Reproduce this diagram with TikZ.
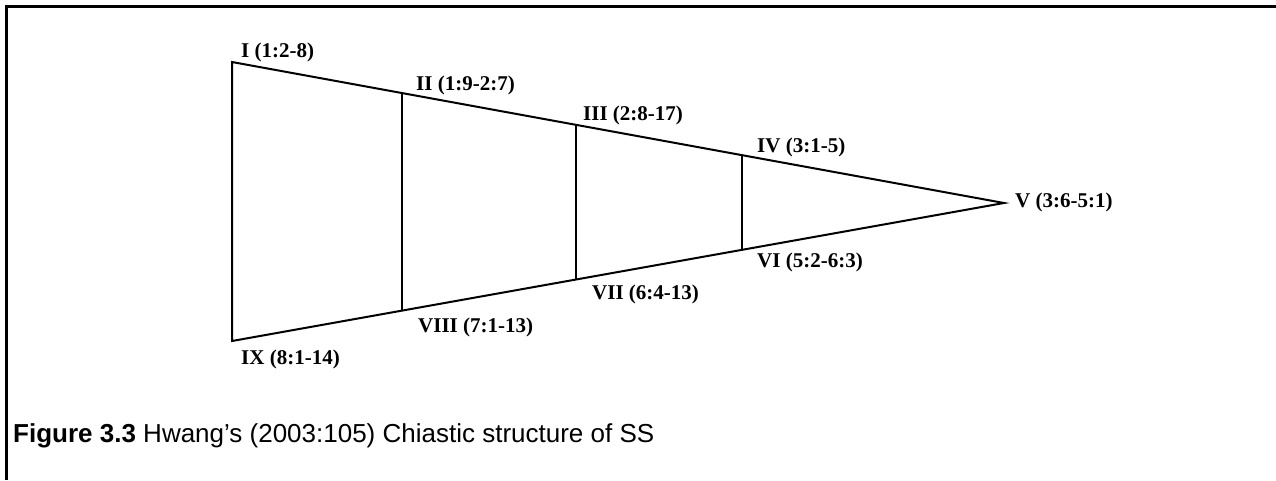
\documentclass[tikz,border=0pt]{standalone}
\usepackage{fontspec}
\setmainfont{Liberation Serif}
\setsansfont{Liberation Sans}
\usetikzlibrary{calc}
\begin{document}
\begin{tikzpicture}[x=1pt,y=-1pt,
  lbl/.style={anchor=base west, inner sep=0pt, font=\fontsize{21}{21}\selectfont\bfseries},
  edge/.style={line width=2pt, line join=miter},
  frame/.style={line width=3pt}]
\useasboundingbox (0,0) rectangle (1276,480);

% open frame: left and top rules
\coordinate (f1) at (6.5,480);
\coordinate (f2) at (6.5,6.5);
\coordinate (f3) at (1276,6.5);
\draw[frame] (f1) -- (f2) -- (f3);

% outer wedge
\coordinate (A) at (232,62);
\coordinate (B) at (232,341);
\coordinate (P) at (1004,203);
\draw[edge] (A) -- (P) -- (B) -- cycle;

% inner dividers
\coordinate (t2) at ($(A)!0.2202!(P)$);
\coordinate (b2) at ($(B)!0.2202!(P)$);
\coordinate (t3) at ($(A)!0.4456!(P)$);
\coordinate (b3) at ($(B)!0.4456!(P)$);
\coordinate (t4) at ($(A)!0.6606!(P)$);
\coordinate (b4) at ($(B)!0.6606!(P)$);
\draw[edge] (t2) -- (b2);
\draw[edge] (t3) -- (b3);
\draw[edge] (t4) -- (b4);

% section labels
\node[lbl] (l1) at (241,57)   {I (1:2-8)};
\node[lbl] (l2) at (416,90)   {II (1:9-2:7)};
\node[lbl] (l3) at (583,120)  {III (2:8-17)};
\node[lbl] (l4) at (757,152)  {IV (3:1-5)};
\node[lbl] (l5) at (1015,207) {V (3:6-5:1)};
\node[lbl] (l6) at (757,267)  {VI (5:2-6:3)};
\node[lbl] (l7) at (592,299)  {VII (6:4-13)};
\node[lbl] (l8) at (418,332)  {VIII (7:1-13)};
\node[lbl] (l9) at (241,364)  {IX (8:1-14)};

% caption
\node[anchor=base west, inner sep=0pt, font=\sffamily\fontsize{26}{26}\selectfont] (cap) at (13,442)
  {\textbf{Figure 3.3} Hwang’s (2003:105) Chiastic structure of SS};
\end{tikzpicture}
\end{document}
